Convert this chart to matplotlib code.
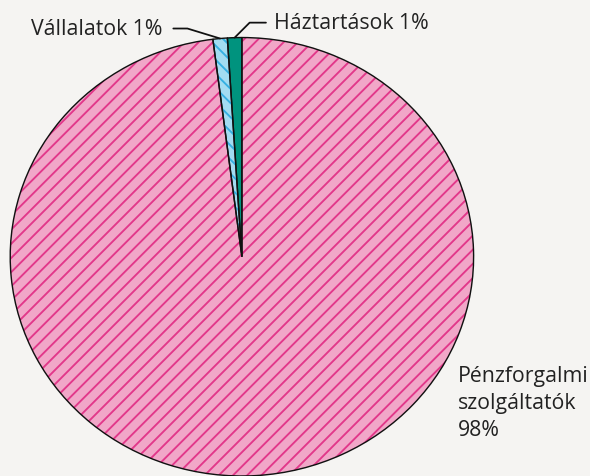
import numpy as np
import matplotlib.pyplot as plt

# adatok
categories = ['Háztartások', 'Vállalatok', 'Pénzforgalmi\nszolgáltatók']
shares = [1.0, 1.0, 98.0]
pct_labels = ['1%', '1%', '98%']

fills = ['#00937e', '#a3dcf1', '#f1a7c8']
hatch_cols = ['#00937e', '#36b0e2', '#e2388a']
hatches = ['', '\\\\', '//']

DPI = 85
plt.rcParams['font.family'] = ['Open Sans', 'DejaVu Sans']
plt.rcParams['hatch.linewidth'] = 1.6

fig = plt.figure(figsize=(590.5 / DPI, 476.5 / DPI), dpi=DPI, facecolor='#f5f4f2')
# pie is slightly squashed in the original, so the axes is not square
ax = fig.add_axes([10.2 / 590, 0, 463 / 590, 438 / 476])
ax.set_facecolor('none')

wedges, _ = ax.pie(shares, startangle=90, counterclock=True, colors=fills)
for w, h, hc in zip(wedges, hatches, hatch_cols):
    w.set_edgecolor(hc)
    w.set_hatch(h)
    w.set_linewidth(0)
    w.set_clip_on(False)

outline, _ = ax.pie(shares, startangle=90, counterclock=True,
                    wedgeprops=dict(fill=False, edgecolor='#111111', linewidth=1.2))
for w in outline:
    w.set_clip_on(False)

ax.set_aspect('auto')
ax.set_xlim(-1, 1)
ax.set_ylim(-1, 1)
ax.axis('off')

txt_kw = dict(fontsize=18, color='#222222')


def mid(w):
    a = np.deg2rad((w.theta1 + w.theta2) / 2)
    return np.cos(a), np.sin(a)


# Háztartások
ax.annotate(categories[0] + ' ' + pct_labels[0], xy=mid(wedges[0]), xytext=(39, 15),
            textcoords='offset pixels', ha='left', va='center', annotation_clip=False,
            arrowprops=dict(arrowstyle='-', color='#111111', lw=1.5, patchA=None,
                            relpos=(0, 0.5), shrinkA=6.5, shrinkB=0,
                            connectionstyle='angle,angleA=0,angleB=45,rad=0'),
            **txt_kw)

# Vállalatok
ax.annotate(categories[1] + ' ' + pct_labels[1], xy=mid(wedges[1]), xytext=(-58, 10),
            textcoords='offset pixels', ha='right', va='center', annotation_clip=False,
            arrowprops=dict(arrowstyle='-', color='#111111', lw=1.5, patchA=None,
                            relpos=(1, 0.5), shrinkA=9.5, shrinkB=0,
                            connectionstyle='angle,angleA=0,angleB=163,rad=0'),
            **txt_kw)

# Pénzforgalmi szolgáltatók
fig.text(457 / 590, 1 - 403 / 476, categories[2] + '\n' + pct_labels[2],
         ha='left', va='center', linespacing=1.35, **txt_kw)

plt.savefig('out.png', dpi=DPI, facecolor=fig.get_facecolor())
